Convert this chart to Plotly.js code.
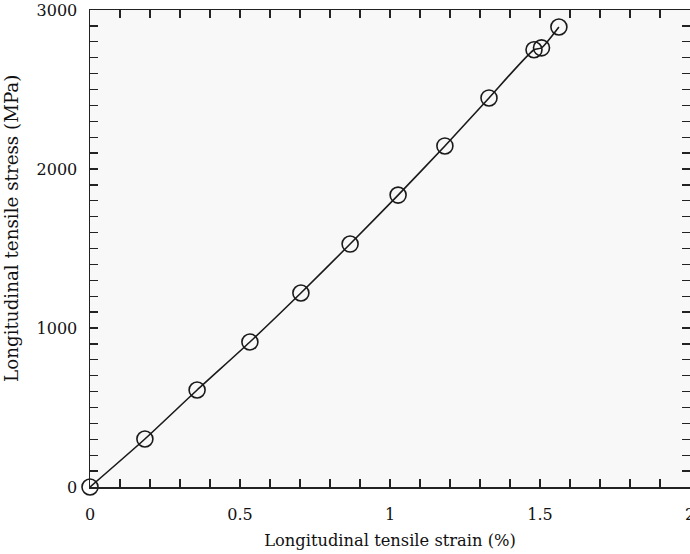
<!DOCTYPE html>
<html><head><meta charset="utf-8">
<script src="https://cdn.plot.ly/plotly-3.0.1.min.js"></script>
<style>html,body{margin:0;padding:0;background:#fff;}</style>
</head><body>
<div id="chart" style="width:690px;height:554px;"></div>
<script>
const strain = [0, 0.183, 0.357, 0.533, 0.703, 0.867, 1.027, 1.183, 1.33, 1.48, 1.505, 1.563];
const stress = [0, 302, 610, 912, 1220, 1528, 1836, 2145, 2447, 2750, 2762, 2893];
const xTitle = 'Longitudinal tensile strain (%)';
const yTitle = 'Longitudinal tensile stress (MPa)';
const xTickVals = [0, 0.5, 1, 1.5, 2];
const xTickText = ['0', '0.5', '1', '1.5', '2'];
const yTickVals = [0, 1000, 2000, 3000];
const yTickText = ['0', '1000', '2000', '3000'];

const font = 'DejaVu Serif, Liberation Serif, serif';
const trace = {
  x: strain, y: stress, mode: 'lines+markers', type: 'scatter',
  line: {color: '#1a1a1a', width: 1.6, shape: 'spline', smoothing: 0.6},
  marker: {symbol: 'circle-open', size: 16, color: '#1a1a1a', line: {width: 1.6, color: '#1a1a1a'}},
  cliponaxis: false, hoverinfo: 'skip'
};
const axisCommon = {
  showgrid: false, zeroline: false, showline: true, linecolor: '#222', linewidth: 1.5,
  mirror: 'ticks', ticks: 'inside', ticklen: 8, tickwidth: 1.3, tickcolor: '#222',
  tickfont: {family: font, size: 16, color: '#111'}, ticklabeloverflow: 'allow'
};
const layout = {
  width: 690, height: 554,
  margin: {l: 90, r: 0, t: 10, b: 67},
  paper_bgcolor: '#ffffff', plot_bgcolor: '#f8f8f8',
  showlegend: false,
  xaxis: Object.assign({}, axisCommon, {
    range: [0, 2], tickmode: 'array', tickvals: xTickVals, ticktext: xTickText,
    ticklabelstandoff: 12,
    minor: {dtick: 0.1, tick0: 0, ticks: 'inside', ticklen: 8, tickwidth: 1.3, tickcolor: '#222'},
    title: {text: xTitle, font: {family: font, size: 16.3, color: '#111'}, standoff: 12}
  }),
  yaxis: Object.assign({}, axisCommon, {
    range: [0, 3000], tickmode: 'array', tickvals: yTickVals, ticktext: yTickText,
    ticklabelstandoff: 8,
    minor: {dtick: 100, tick0: 0, ticks: 'inside', ticklen: 8, tickwidth: 1.3, tickcolor: '#222'}
  }),
  annotations: [{
    text: yTitle, textangle: -90, xref: 'paper', yref: 'paper',
    x: -0.13, y: 0.541, xanchor: 'center', yanchor: 'middle', showarrow: false,
    font: {family: font, size: 18.3, color: '#111'}
  }]
};
Plotly.newPlot('chart', [trace], layout, {displayModeBar: false, staticPlot: true});
</script>
</body></html>
